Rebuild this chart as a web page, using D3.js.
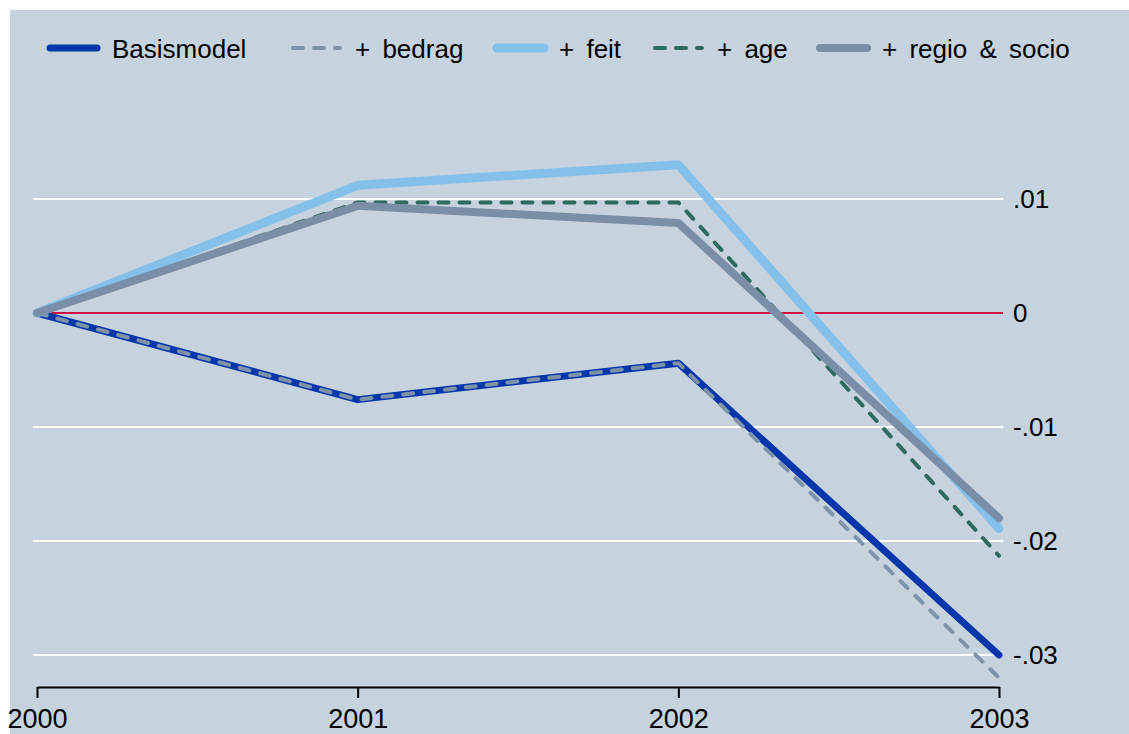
<!DOCTYPE html>
<html>
<head>
<meta charset="utf-8">
<script src="https://cdn.jsdelivr.net/npm/d3@7"></script>
<style>
  body { margin: 0; background: #ffffff; }
  svg { display: block; font-family: "Liberation Sans", Arial, sans-serif; }
</style>
</head>
<body>
<div id="chart"></div>
<script>
// data
var years = [2000, 2001, 2002, 2003];
var basismodel = [0, -0.0076, -0.0044, -0.0300];
var bedrag = [0, -0.0076, -0.0044, -0.0320];
var feit = [0, 0.0112, 0.0130, -0.0189];
var age = [0, 0.0097, 0.0097, -0.0213];
var regio = [0, 0.0094, 0.0079, -0.0180];
var seriesNames = ["Basismodel", "+ bedrag", "+ feit", "+ age", "+ regio & socio"];
var yTicks = [0.01, 0, -0.01, -0.02, -0.03];
var yTickLabels = [".01", "0", "-.01", "-.02", "-.03"];

var width = 1129;
var height = 734;

// stijlen per reeks
var styles = [
  { color: "#0536AA", width: 7, dash: null },
  { color: "#7E92AA", width: 4, dash: "10,11" },
  { color: "#84C0E9", width: 9, dash: null },
  { color: "#2E6A5E", width: 4, dash: "10,11" },
  { color: "#7A8FA7", width: 8, dash: null }
];
var seriesData = [basismodel, bedrag, feit, age, regio];

var svg = d3.select("#chart").append("svg")
  .attr("width", width)
  .attr("height", height);

svg.append("rect")
  .attr("x", 10).attr("y", 10)
  .attr("width", width - 10).attr("height", height - 10)
  .attr("fill", "#C6D3DF");

var x = d3.scaleLinear().domain([2000, 2003]).range([37, 999]);
var y = d3.scaleLinear().domain([-0.03, 0.01]).range([655, 199]);

// rasterlijnen
svg.append("g").selectAll("line")
  .data(yTicks)
  .enter()
  .append("line")
  .attr("x1", 33).attr("x2", 1003)
  .attr("y1", function(d) { return y(d); })
  .attr("y2", function(d) { return y(d); })
  .attr("stroke", function(d) { return d === 0 ? "#D21040" : "#ffffff"; })
  .attr("stroke-width", 2);

// y-as rechts
var yAxis = svg.append("g")
  .attr("transform", "translate(1003,0)")
  .call(d3.axisRight(y)
    .tickValues(yTicks)
    .tickSize(0)
    .tickPadding(10)
    .tickFormat(function(d, i) { return yTickLabels[i]; }));
yAxis.select(".domain").remove();
yAxis.selectAll("text")
  .attr("font-size", 26)
  .attr("fill", "#000")
  .attr("font-family", "Liberation Sans, Arial, sans-serif");

// x-as
var xAxis = svg.append("g")
  .attr("transform", "translate(0,687)")
  .call(d3.axisBottom(x)
    .tickValues(years)
    .tickSize(11)
    .tickSizeOuter(0)
    .tickPadding(11)
    .tickFormat(d3.format("d")));
xAxis.select(".domain").attr("stroke", "#000").attr("stroke-width", 2);
xAxis.selectAll(".tick line").attr("stroke", "#000").attr("stroke-width", 2);
xAxis.selectAll("text")
  .attr("font-size", 27)
  .attr("fill", "#000")
  .attr("font-family", "Liberation Sans, Arial, sans-serif");

// lijnen
var line = d3.line()
  .x(function(d, i) { return x(years[i]); })
  .y(function(d) { return y(d); });

svg.append("g").selectAll("path")
  .data(seriesData)
  .enter()
  .append("path")
  .attr("d", line)
  .attr("fill", "none")
  .attr("stroke", function(d, i) { return styles[i].color; })
  .attr("stroke-width", function(d, i) { return styles[i].width; })
  .attr("stroke-dasharray", function(d, i) { return styles[i].dash; })
  .attr("stroke-linecap", "round")
  .attr("stroke-linejoin", "round");

// legenda
var legendX = [50, 293, 497, 655, 820];
var legend = svg.append("g").selectAll("g")
  .data(seriesNames)
  .enter()
  .append("g")
  .attr("transform", function(d, i) { return "translate(" + legendX[i] + ",48)"; });

legend.append("line")
  .attr("x1", 0).attr("x2", 47)
  .attr("y1", 0).attr("y2", 0)
  .attr("stroke", function(d, i) { return styles[i].color; })
  .attr("stroke-width", function(d, i) { return styles[i].width; })
  .attr("stroke-dasharray", function(d, i) { return styles[i].dash; })
  .attr("stroke-linecap", "round");

legend.append("text")
  .attr("x", 62)
  .attr("y", 10)
  .attr("font-size", 26)
  .attr("word-spacing", 5)
  .attr("fill", "#000")
  .text(function(d) { return d; });
</script>
</body>
</html>
